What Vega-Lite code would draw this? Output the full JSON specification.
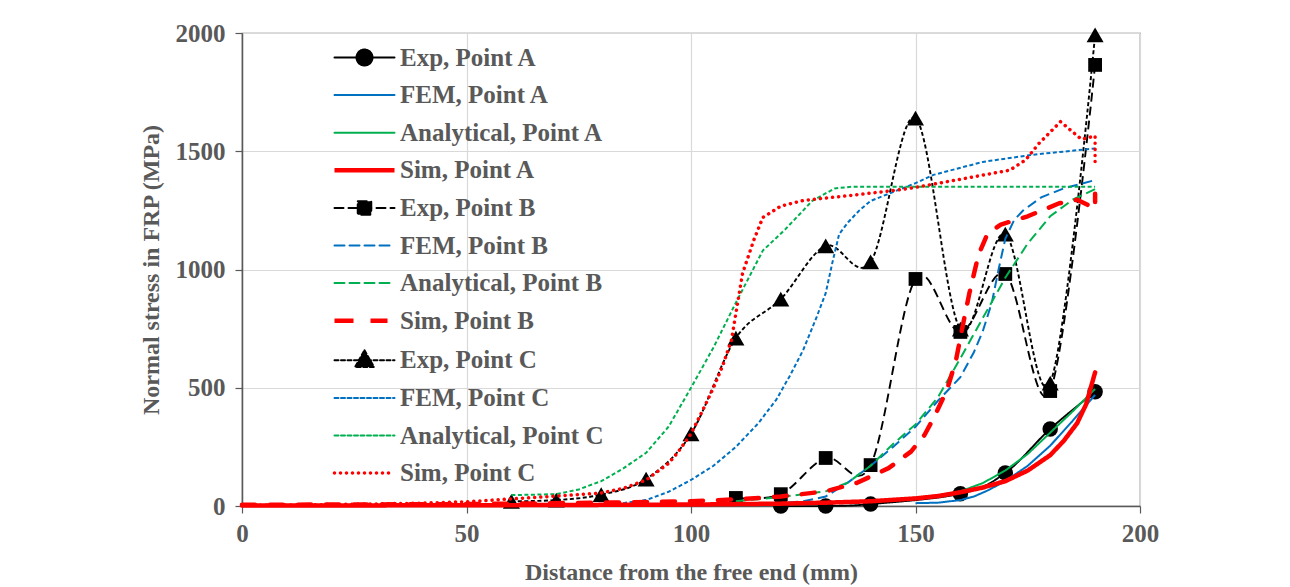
{
  "$schema": "https://vega.github.io/schema/vega-lite/v6.json",
  "width": 898,
  "height": 473,
  "autosize": {"type": "none"},
  "padding": {"left": 242, "top": 33, "right": 150, "bottom": 81},
  "background": "white",
  "config": {
    "view": {"stroke": "#6f6f6f", "strokeWidth": 1.2},
    "axis": {
      "labelFont": "Liberation Serif", "labelFontWeight": "bold", "labelFontSize": 25, "labelColor": "#595959",
      "titleFont": "Liberation Serif", "titleFontWeight": "bold", "titleFontSize": 24, "titleColor": "#595959",
      "gridColor": "#D9D9D9", "gridWidth": 1.2, "domainColor": "#595959", "domainWidth": 1.5, "tickColor": "#595959", "tickSize": 7, "tickWidth": 1.2,
      "labelFlush": false
    },
    "legend": {
      "labelFont": "Liberation Serif", "labelFontWeight": "bold", "labelFontSize": 25, "labelColor": "#595959", "labelLimit": 500
    }
  },
  "data": {"values": [
    {"s": "Exp, Point A", "x": 120, "y": 0}, {"s": "Exp, Point A", "x": 130, "y": 0}, {"s": "Exp, Point A", "x": 140, "y": 8},
    {"s": "Exp, Point A", "x": 160, "y": 52}, {"s": "Exp, Point A", "x": 170, "y": 140}, {"s": "Exp, Point A", "x": 180, "y": 326}, {"s": "Exp, Point A", "x": 190, "y": 483},

    {"s": "Exp, Point B", "x": 110, "y": 34}, {"s": "Exp, Point B", "x": 120, "y": 50}, {"s": "Exp, Point B", "x": 130, "y": 203},
    {"s": "Exp, Point B", "x": 140, "y": 173}, {"s": "Exp, Point B", "x": 150, "y": 960}, {"s": "Exp, Point B", "x": 160, "y": 736},
    {"s": "Exp, Point B", "x": 170, "y": 981}, {"s": "Exp, Point B", "x": 180, "y": 486}, {"s": "Exp, Point B", "x": 190, "y": 1865},

    {"s": "Exp, Point C", "x": 60, "y": 20}, {"s": "Exp, Point C", "x": 70, "y": 25}, {"s": "Exp, Point C", "x": 80, "y": 48},
    {"s": "Exp, Point C", "x": 90, "y": 114}, {"s": "Exp, Point C", "x": 100, "y": 305}, {"s": "Exp, Point C", "x": 110, "y": 710},
    {"s": "Exp, Point C", "x": 120, "y": 875}, {"s": "Exp, Point C", "x": 130, "y": 1100}, {"s": "Exp, Point C", "x": 140, "y": 1032},
    {"s": "Exp, Point C", "x": 150, "y": 1640}, {"s": "Exp, Point C", "x": 160, "y": 748}, {"s": "Exp, Point C", "x": 170, "y": 1150},
    {"s": "Exp, Point C", "x": 180, "y": 520}, {"s": "Exp, Point C", "x": 190, "y": 1992},

    {"s": "FEM, Point A", "x": 150, "y": 12}, {"s": "FEM, Point A", "x": 155, "y": 14}, {"s": "FEM, Point A", "x": 160, "y": 25},
    {"s": "FEM, Point A", "x": 163, "y": 40}, {"s": "FEM, Point A", "x": 166, "y": 65}, {"s": "FEM, Point A", "x": 170, "y": 105},
    {"s": "FEM, Point A", "x": 175, "y": 170}, {"s": "FEM, Point A", "x": 180, "y": 255}, {"s": "FEM, Point A", "x": 185, "y": 360},
    {"s": "FEM, Point A", "x": 190, "y": 470},

    {"s": "Analytical, Point A", "x": 120, "y": 8}, {"s": "Analytical, Point A", "x": 130, "y": 12}, {"s": "Analytical, Point A", "x": 140, "y": 20},
    {"s": "Analytical, Point A", "x": 150, "y": 35}, {"s": "Analytical, Point A", "x": 155, "y": 45}, {"s": "Analytical, Point A", "x": 160, "y": 62},
    {"s": "Analytical, Point A", "x": 165, "y": 97}, {"s": "Analytical, Point A", "x": 170, "y": 150}, {"s": "Analytical, Point A", "x": 175, "y": 220},
    {"s": "Analytical, Point A", "x": 180, "y": 310}, {"s": "Analytical, Point A", "x": 185, "y": 400}, {"s": "Analytical, Point A", "x": 190, "y": 495},

    {"s": "FEM, Point B", "x": 115, "y": 5}, {"s": "FEM, Point B", "x": 120, "y": 12}, {"s": "FEM, Point B", "x": 125, "y": 20},
    {"s": "FEM, Point B", "x": 130, "y": 40}, {"s": "FEM, Point B", "x": 135, "y": 100}, {"s": "FEM, Point B", "x": 140, "y": 170},
    {"s": "FEM, Point B", "x": 145, "y": 250}, {"s": "FEM, Point B", "x": 150, "y": 335}, {"s": "FEM, Point B", "x": 155, "y": 445},
    {"s": "FEM, Point B", "x": 160, "y": 545}, {"s": "FEM, Point B", "x": 163, "y": 650}, {"s": "FEM, Point B", "x": 165, "y": 740},
    {"s": "FEM, Point B", "x": 167, "y": 860}, {"s": "FEM, Point B", "x": 168.5, "y": 1000}, {"s": "FEM, Point B", "x": 170, "y": 1130},
    {"s": "FEM, Point B", "x": 172, "y": 1210}, {"s": "FEM, Point B", "x": 174, "y": 1250}, {"s": "FEM, Point B", "x": 178, "y": 1305},
    {"s": "FEM, Point B", "x": 183, "y": 1343}, {"s": "FEM, Point B", "x": 190, "y": 1378},

    {"s": "Analytical, Point B", "x": 110, "y": 20}, {"s": "Analytical, Point B", "x": 120, "y": 38}, {"s": "Analytical, Point B", "x": 130, "y": 62},
    {"s": "Analytical, Point B", "x": 135, "y": 100}, {"s": "Analytical, Point B", "x": 140, "y": 170}, {"s": "Analytical, Point B", "x": 145, "y": 262},
    {"s": "Analytical, Point B", "x": 150, "y": 345}, {"s": "Analytical, Point B", "x": 155, "y": 460}, {"s": "Analytical, Point B", "x": 160, "y": 625},
    {"s": "Analytical, Point B", "x": 165, "y": 795}, {"s": "Analytical, Point B", "x": 170, "y": 965}, {"s": "Analytical, Point B", "x": 175, "y": 1110},
    {"s": "Analytical, Point B", "x": 180, "y": 1225}, {"s": "Analytical, Point B", "x": 185, "y": 1295}, {"s": "Analytical, Point B", "x": 190, "y": 1340},

    {"s": "FEM, Point C", "x": 82, "y": 5}, {"s": "FEM, Point C", "x": 86, "y": 15}, {"s": "FEM, Point C", "x": 90, "y": 25},
    {"s": "FEM, Point C", "x": 95, "y": 60}, {"s": "FEM, Point C", "x": 100, "y": 110}, {"s": "FEM, Point C", "x": 105, "y": 170},
    {"s": "FEM, Point C", "x": 110, "y": 250}, {"s": "FEM, Point C", "x": 115, "y": 350}, {"s": "FEM, Point C", "x": 119, "y": 450},
    {"s": "FEM, Point C", "x": 122, "y": 550}, {"s": "FEM, Point C", "x": 125, "y": 660}, {"s": "FEM, Point C", "x": 128, "y": 800},
    {"s": "FEM, Point C", "x": 130, "y": 900}, {"s": "FEM, Point C", "x": 131.5, "y": 1030}, {"s": "FEM, Point C", "x": 133, "y": 1150},
    {"s": "FEM, Point C", "x": 135, "y": 1200}, {"s": "FEM, Point C", "x": 137.5, "y": 1250}, {"s": "FEM, Point C", "x": 140, "y": 1290},
    {"s": "FEM, Point C", "x": 144, "y": 1320}, {"s": "FEM, Point C", "x": 150, "y": 1365}, {"s": "FEM, Point C", "x": 154, "y": 1400},
    {"s": "FEM, Point C", "x": 165, "y": 1455}, {"s": "FEM, Point C", "x": 176, "y": 1485}, {"s": "FEM, Point C", "x": 190, "y": 1512},

    {"s": "Analytical, Point C", "x": 60, "y": 46}, {"s": "Analytical, Point C", "x": 70, "y": 50}, {"s": "Analytical, Point C", "x": 75, "y": 70},
    {"s": "Analytical, Point C", "x": 80, "y": 105}, {"s": "Analytical, Point C", "x": 85, "y": 160}, {"s": "Analytical, Point C", "x": 90, "y": 225},
    {"s": "Analytical, Point C", "x": 95, "y": 335}, {"s": "Analytical, Point C", "x": 100, "y": 500}, {"s": "Analytical, Point C", "x": 105, "y": 670},
    {"s": "Analytical, Point C", "x": 110, "y": 860}, {"s": "Analytical, Point C", "x": 116, "y": 1080}, {"s": "Analytical, Point C", "x": 121, "y": 1170},
    {"s": "Analytical, Point C", "x": 127, "y": 1290}, {"s": "Analytical, Point C", "x": 132, "y": 1343}, {"s": "Analytical, Point C", "x": 136, "y": 1350},
    {"s": "Analytical, Point C", "x": 190, "y": 1350},

    {"s": "Sim, Point A", "x": 0, "y": 2}, {"s": "Sim, Point A", "x": 50, "y": 3}, {"s": "Sim, Point A", "x": 100, "y": 6},
    {"s": "Sim, Point A", "x": 120, "y": 10}, {"s": "Sim, Point A", "x": 130, "y": 14}, {"s": "Sim, Point A", "x": 140, "y": 20},
    {"s": "Sim, Point A", "x": 150, "y": 32}, {"s": "Sim, Point A", "x": 155, "y": 42}, {"s": "Sim, Point A", "x": 160, "y": 58},
    {"s": "Sim, Point A", "x": 165, "y": 78}, {"s": "Sim, Point A", "x": 170, "y": 105}, {"s": "Sim, Point A", "x": 175, "y": 150},
    {"s": "Sim, Point A", "x": 180, "y": 215}, {"s": "Sim, Point A", "x": 183, "y": 275}, {"s": "Sim, Point A", "x": 186, "y": 350},
    {"s": "Sim, Point A", "x": 188, "y": 430}, {"s": "Sim, Point A", "x": 190, "y": 565},

    {"s": "Sim, Point B", "x": 0, "y": 5}, {"s": "Sim, Point B", "x": 50, "y": 8}, {"s": "Sim, Point B", "x": 80, "y": 14},
    {"s": "Sim, Point B", "x": 100, "y": 20}, {"s": "Sim, Point B", "x": 110, "y": 28}, {"s": "Sim, Point B", "x": 120, "y": 40},
    {"s": "Sim, Point B", "x": 130, "y": 62}, {"s": "Sim, Point B", "x": 137, "y": 98}, {"s": "Sim, Point B", "x": 144, "y": 160},
    {"s": "Sim, Point B", "x": 149, "y": 230}, {"s": "Sim, Point B", "x": 152, "y": 300}, {"s": "Sim, Point B", "x": 154, "y": 370},
    {"s": "Sim, Point B", "x": 157, "y": 490}, {"s": "Sim, Point B", "x": 159, "y": 615}, {"s": "Sim, Point B", "x": 160.5, "y": 760},
    {"s": "Sim, Point B", "x": 162, "y": 900}, {"s": "Sim, Point B", "x": 164, "y": 1060}, {"s": "Sim, Point B", "x": 166, "y": 1150},
    {"s": "Sim, Point B", "x": 169, "y": 1190}, {"s": "Sim, Point B", "x": 175, "y": 1225}, {"s": "Sim, Point B", "x": 182, "y": 1280},
    {"s": "Sim, Point B", "x": 186, "y": 1295}, {"s": "Sim, Point B", "x": 190, "y": 1258}, {"s": "Sim, Point B", "x": 190, "y": 1320},

    {"s": "Sim, Point C", "x": 0, "y": 3}, {"s": "Sim, Point C", "x": 20, "y": 6}, {"s": "Sim, Point C", "x": 40, "y": 12},
    {"s": "Sim, Point C", "x": 50, "y": 18}, {"s": "Sim, Point C", "x": 60, "y": 30}, {"s": "Sim, Point C", "x": 70, "y": 42},
    {"s": "Sim, Point C", "x": 80, "y": 55}, {"s": "Sim, Point C", "x": 85, "y": 75}, {"s": "Sim, Point C", "x": 90, "y": 110},
    {"s": "Sim, Point C", "x": 95, "y": 180}, {"s": "Sim, Point C", "x": 97, "y": 225}, {"s": "Sim, Point C", "x": 100, "y": 305},
    {"s": "Sim, Point C", "x": 103, "y": 420}, {"s": "Sim, Point C", "x": 105, "y": 500}, {"s": "Sim, Point C", "x": 107, "y": 590},
    {"s": "Sim, Point C", "x": 109, "y": 700}, {"s": "Sim, Point C", "x": 110, "y": 815}, {"s": "Sim, Point C", "x": 111.5, "y": 985},
    {"s": "Sim, Point C", "x": 114, "y": 1125}, {"s": "Sim, Point C", "x": 116, "y": 1220}, {"s": "Sim, Point C", "x": 120, "y": 1268},
    {"s": "Sim, Point C", "x": 125, "y": 1292}, {"s": "Sim, Point C", "x": 135, "y": 1312}, {"s": "Sim, Point C", "x": 146, "y": 1336},
    {"s": "Sim, Point C", "x": 150, "y": 1347}, {"s": "Sim, Point C", "x": 161, "y": 1385}, {"s": "Sim, Point C", "x": 171, "y": 1420},
    {"s": "Sim, Point C", "x": 174.5, "y": 1463}, {"s": "Sim, Point C", "x": 177.5, "y": 1533}, {"s": "Sim, Point C", "x": 182.3, "y": 1625},
    {"s": "Sim, Point C", "x": 187, "y": 1550}, {"s": "Sim, Point C", "x": 190, "y": 1565}, {"s": "Sim, Point C", "x": 190, "y": 1440}
  ]},
  "encoding": {
    "x": {"field": "x", "type": "quantitative", "scale": {"domain": [0, 200], "nice": false},
      "axis": {"values": [0, 50, 100, 150, 200], "title": "Distance from the free end (mm)", "labelPadding": 8, "titlePadding": 14, "grid": true}},
    "y": {"field": "y", "type": "quantitative", "scale": {"domain": [0, 2000], "nice": false},
      "axis": {"values": [0, 500, 1000, 1500, 2000], "format": "d", "title": "Normal stress in FRP (MPa)", "labelPadding": 10, "titlePadding": 12, "grid": true}}
  },
  "layer": [
    {
      "transform": [{"filter": "indexof(datum.s, 'Exp') === 0"}],
      "mark": {"type": "line", "interpolate": "cardinal", "strokeCap": "butt", "strokeWidth": 1.9},
      "encoding": {
        "order": {"value": null},
        "color": {"field": "s", "type": "nominal",
          "scale": {"domain": ["Exp, Point A", "FEM, Point A", "Analytical, Point A", "Sim, Point A", "Exp, Point B", "FEM, Point B", "Analytical, Point B", "Sim, Point B", "Exp, Point C", "FEM, Point C", "Analytical, Point C", "Sim, Point C"],
            "range": ["#000000", "#0070C0", "#00B050", "#FF0000", "#000000", "#0070C0", "#00B050", "#FF0000", "#000000", "#0070C0", "#00B050", "#FF0000"]},
          "legend": {
            "title": null, "orient": "none", "legendX": 110, "legendY": 12,
            "symbolType": "stroke", "symbolSize": 100, "symbolStrokeWidth": 2, "labelOffset": 23, "rowPadding": 11.6,
            "encode": {"symbols": {"update": {
              "shape": {"signal": "datum.value === 'Exp, Point A' ? 'M-6,0H6M1.6,0A1.6,1.6,0,1,1,-1.6,0A1.6,1.6,0,1,1,1.6,0Z' : datum.value === 'Exp, Point B' ? 'M-6,0H6M-1.35,-1.35H1.35V1.35H-1.35Z' : datum.value === 'Exp, Point C' ? 'M-6,0H6M0,-2L1.9,1.35H-1.9Z' : datum.value === 'Sim, Point A' ? 'M-6,-0.45H6V0.45H-6Z' : datum.value === 'Sim, Point B' ? 'M-6,-0.45H-2.2V0.45H-6ZM1.2,-0.45H4.6V0.45H1.2Z' : datum.value === 'Sim, Point C' ? 'M-5.65,0A0.35,0.35,0,1,1,-6.35,0A0.35,0.35,0,1,1,-5.65,0ZM-4.45,0A0.35,0.35,0,1,1,-5.15,0A0.35,0.35,0,1,1,-4.45,0ZM-3.25,0A0.35,0.35,0,1,1,-3.95,0A0.35,0.35,0,1,1,-3.25,0ZM-2.05,0A0.35,0.35,0,1,1,-2.75,0A0.35,0.35,0,1,1,-2.05,0ZM-0.85,0A0.35,0.35,0,1,1,-1.55,0A0.35,0.35,0,1,1,-0.85,0ZM0.35,0A0.35,0.35,0,1,1,-0.35,0A0.35,0.35,0,1,1,0.35,0ZM1.55,0A0.35,0.35,0,1,1,0.85,0A0.35,0.35,0,1,1,1.55,0ZM2.75,0A0.35,0.35,0,1,1,2.05,0A0.35,0.35,0,1,1,2.75,0ZM3.95,0A0.35,0.35,0,1,1,3.25,0A0.35,0.35,0,1,1,3.95,0ZM5.15,0A0.35,0.35,0,1,1,4.45,0A0.35,0.35,0,1,1,5.15,0Z' : 'M-6,0H6'"},
              "fill": {"signal": "indexof(datum.value, 'Sim') === 0 ? '#FF0000' : '#000000'"},
              "strokeOpacity": {"signal": "indexof(datum.value, 'Sim') === 0 ? 0 : 1"},
              "strokeCap": {"value": "round"}
            }}}
          }},
        "strokeDash": {"field": "s", "type": "nominal",
          "scale": {"domain": ["Exp, Point A", "FEM, Point A", "Analytical, Point A", "Sim, Point A", "Exp, Point B", "FEM, Point B", "Analytical, Point B", "Sim, Point B", "Exp, Point C", "FEM, Point C", "Analytical, Point C", "Sim, Point C"],
            "range": [[1, 0], [1, 0], [1, 0], [1, 0], [9, 5], [10, 5], [10, 5], [13, 15], [4, 2.5], [4, 2.5], [4, 2.5], [0.1, 6]]}}
      }
    },
    {
      "transform": [{"filter": "datum.s === 'Exp, Point A'"}],
      "mark": {"type": "point", "filled": true, "opacity": 1, "color": "#000000", "shape": "circle", "size": 240}
    },
    {
      "transform": [{"filter": "datum.s === 'Exp, Point B'"}],
      "mark": {"type": "point", "filled": true, "opacity": 1, "color": "#000000", "shape": "square", "size": 190}
    },
    {
      "transform": [{"filter": "datum.s === 'Exp, Point C'"}],
      "mark": {"type": "point", "filled": true, "opacity": 1, "color": "#000000", "shape": "triangle-up", "size": 290}
    },
    {
      "transform": [{"filter": "indexof(datum.s, 'FEM') === 0 || indexof(datum.s, 'Analytical') === 0"}],
      "mark": {"type": "line", "strokeCap": "butt", "strokeWidth": 2},
      "encoding": {
        "order": {"value": null},
        "color": {"field": "s", "type": "nominal"},
        "strokeDash": {"field": "s", "type": "nominal"}
      }
    },
    {
      "transform": [{"filter": "datum.s === 'Sim, Point A' || datum.s === 'Sim, Point B'"}],
      "mark": {"type": "line", "strokeCap": "round", "strokeJoin": "round", "strokeWidth": 4.5},
      "encoding": {
        "order": {"value": null},
        "color": {"field": "s", "type": "nominal"},
        "strokeDash": {"field": "s", "type": "nominal"}
      }
    },
    {
      "transform": [{"filter": "datum.s === 'Sim, Point C'"}],
      "mark": {"type": "line", "strokeCap": "round", "strokeJoin": "round", "strokeWidth": 3.5},
      "encoding": {
        "order": {"value": null},
        "color": {"field": "s", "type": "nominal"},
        "strokeDash": {"field": "s", "type": "nominal"}
      }
    }
  ]
}
